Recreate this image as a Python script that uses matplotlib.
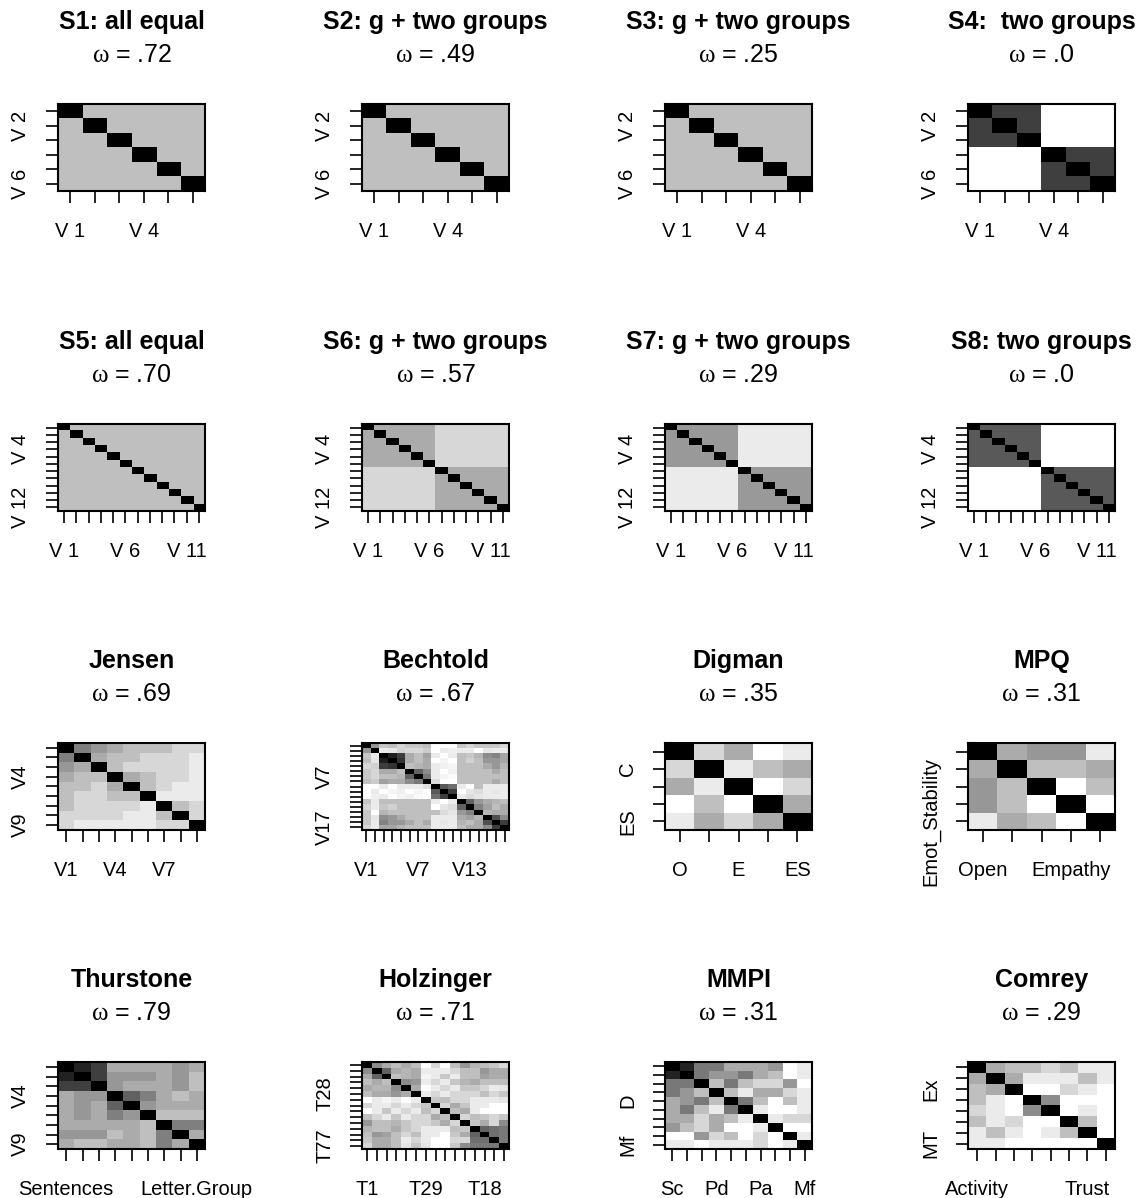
import numpy as np
import matplotlib
matplotlib.use("Agg")
import matplotlib.pyplot as plt

plt.rcParams['font.family'] = ['Liberation Sans', 'DejaVu Sans']
plt.rcParams['mathtext.fontset'] = 'custom'
plt.rcParams['mathtext.rm'] = 'Liberation Serif'
plt.rcParams['mathtext.it'] = 'Liberation Serif:italic'
plt.rcParams['mathtext.bf'] = 'Liberation Serif:bold'

W, H, DPI = 1143, 1198, 100

titles = ["S1: all equal", "S2: g + two groups", "S3: g + two groups", "S4:  two groups",
          "S5: all equal", "S6: g + two groups", "S7: g + two groups", "S8: two groups",
          "Jensen", "Bechtold", "Digman", "MPQ",
          "Thurstone", "Holzinger", "MMPI", "Comrey"]
omegas = [".72", ".49", ".25", ".0", ".70", ".57", ".29", ".0",
          ".69", ".67", ".35", ".31", ".79", ".71", ".31", ".29"]

# simulated structures: group of each variable, (r within, r between)
s1_groups = [1, 1, 1, 1, 1, 1]
s1_r = (0.25, 0.25)
s2_groups = [1, 1, 1, 2, 2, 2]
s2_r = (0.25, 0.25)
s3_groups = [1, 1, 1, 2, 2, 2]
s3_r = (0.25, 0.25)
s4_groups = [1, 1, 1, 2, 2, 2]
s4_r = (0.75, 0.0)
s5_groups = [1] * 12
s5_r = (0.25, 0.25)
s6_groups = [1, 1, 1, 1, 1, 1, 2, 2, 2, 2, 2, 2]
s6_r = (0.33, 0.16)
s7_groups = [1, 1, 1, 1, 1, 1, 2, 2, 2, 2, 2, 2]
s7_r = (0.40, 0.08)
s8_groups = [1, 1, 1, 1, 1, 1, 2, 2, 2, 2, 2, 2]
s8_r = (0.65, 0.0)

# real data sets, lower triangles (row i holds r with variables 1..i-1)
jensen = [
    [.50],
    [.41, .33],
    [.33, .25, .25],
    [.25, .25, .16, .33],
    [.25, .16, .16, .25, .25],
    [.25, .16, .16, .16, .16, .08],
    [.16, .16, .16, .16, .08, .08, .25],
    [.16, .08, .08, .08, .08, .08, .16, .16],
]
bechtold = [
    [.41],
    [.22, .08],
    [.25, .10, .88],
    [.16, .18, .76, .80],
    [.22, .16, .33, .33, .25],
    [.22, .16, .25, .25, .29, .61],
    [.25, .20, .37, .33, .33, .45, .53],
    [0, 0, .08, 0, .08, .08, .08, .14],
    [0, .08, 0, .04, .06, 0, .04, 0, .65],
    [0, .06, .08, 0, .04, .06, .02, 0, .57, .76],
    [.22, .08, .25, .25, .25, .25, .25, .25, .08, 0, .08],
    [.16, .08, .22, .18, .25, .25, .25, .25, 0, .10, .14, .61],
    [.22, 0, .29, .25, .25, .25, .25, .25, .25, .14, .10, .41, .49],
    [.22, .10, .45, .41, .33, .25, .25, .25, .08, .08, .08, .33, .37, .29],
    [.22, .08, .49, .41, .41, .33, .25, .33, .08, .10, .08, .29, .25, .33, .69],
    [.16, .08, .35, .35, .29, .25, .25, .25, .08, .08, .08, .25, .33, .33, .45, .76],
]
digman = [
    [.16],
    [.33, .08],
    [0, .25, 0],
    [.08, .33, .16, .33],
]
mpq = [
    [.33],
    [.41, .25],
    [.41, .25, 0],
    [.08, .33, .25, 0],
]
thurstone = [
    [.86],
    [.75, .75],
    [.33, .41, .41],
    [.33, .41, .33, .62],
    [.33, .41, .33, .50, .41],
    [.33, .33, .33, .33, .33, .25],
    [.41, .41, .41, .25, .33, .25, .50],
    [.33, .25, .25, .33, .33, .25, .50, .33],
]
holzinger = [
    [.45],
    [.33, .61],
    [.25, .33, .25],
    [.33, .29, .29, .45],
    [.25, .33, .33, .41, .33],
    [0, .08, .04, .08, 0, .08],
    [.16, .08, .08, .16, .08, .16, .22],
    [0, .08, .22, .08, .16, .08, .25, .16],
    [.25, .16, .08, .22, .08, .16, .16, .33, .25],
    [.41, .25, .25, .29, .22, .16, .16, .22, .33, .16],
    [.29, .25, .25, .33, .22, .16, .08, .08, .08, .25, .22],
    [.25, .41, .37, .25, .16, .25, .08, .08, 0, .22, .33, .61],
    [.22, .33, .33, .25, .08, .16, .08, 0, 0, .16, .16, .57, .57],
    [.16, .33, .33, .25, .10, .22, .10, 0, 0, .22, .45, .53, .53, .53],
]
mmpi = [
    [.86],
    [.53, .53],
    [.53, .41, .25],
    [.33, .41, .53, .25],
    [.33, .53, .25, .08, .53],
    [.33, .33, .16, .33, .25, .08],
    [.41, .25, .16, .33, 0, 0, .08],
    [0, 0, .41, .16, .25, 0, .16, 0],
    [.08, .08, 0, .08, .08, .08, .16, 0, .08],
]
comrey = [
    [.33],
    [.25, .33],
    [.25, .08, 0],
    [.16, .08, 0, .45],
    [.25, .08, .16, 0, 0],
    [.08, .25, .08, 0, .08, .25],
    [.08, .08, 0, 0, 0, 0, 0],
]

# tick labels shown on each panel (position -> text)
xlabs = [
    {0: "V 1", 3: "V 4"}, {0: "V 1", 3: "V 4"}, {0: "V 1", 3: "V 4"}, {0: "V 1", 3: "V 4"},
    {0: "V 1", 5: "V 6", 10: "V 11"}, {0: "V 1", 5: "V 6", 10: "V 11"},
    {0: "V 1", 5: "V 6", 10: "V 11"}, {0: "V 1", 5: "V 6", 10: "V 11"},
    {0: "V1", 3: "V4", 6: "V7"}, {0: "V1", 6: "V7", 12: "V13"},
    {0: "O", 2: "E", 4: "ES"}, {0: "Open", 3: "Empathy"},
    {0: "Sentences", 8: "Letter.Group"}, {0: "T1", 6: "T29", 12: "T18"},
    {0: "Sc", 3: "Pd", 6: "Pa", 9: "Mf"}, {0: "Activity", 6: "Trust"},
]
ylabs = [
    {1: "V 2", 5: "V 6"}, {1: "V 2", 5: "V 6"}, {1: "V 2", 5: "V 6"}, {1: "V 2", 5: "V 6"},
    {3: "V 4", 11: "V 12"}, {3: "V 4", 11: "V 12"}, {3: "V 4", 11: "V 12"}, {3: "V 4", 11: "V 12"},
    {3: "V4", 8: "V9"}, {6: "V7", 16: "V17"},
    {1: "C", 4: "ES"}, {4: "Emot_Stability"},
    {3: "V4", 8: "V9"}, {5: "T28", 14: "T77"},
    {4: "D", 9: "Mf"}, {2: "Ex", 7: "MT"},
]


def block_matrix(groups, rr):
    g = np.array(groups)
    m = np.where(g[:, None] == g[None, :], rr[0], rr[1]).astype(float)
    np.fill_diagonal(m, 1.0)
    return m


def from_lower(rows):
    n = len(rows) + 1
    m = np.eye(n)
    for i, row in enumerate(rows, start=1):
        m[i, :i] = row
        m[:i, i] = row
    return m


mats = [block_matrix(s1_groups, s1_r), block_matrix(s2_groups, s2_r),
        block_matrix(s3_groups, s3_r), block_matrix(s4_groups, s4_r),
        block_matrix(s5_groups, s5_r), block_matrix(s6_groups, s6_r),
        block_matrix(s7_groups, s7_r), block_matrix(s8_groups, s8_r),
        from_lower(jensen), from_lower(bechtold), from_lower(digman), from_lower(mpq),
        from_lower(thurstone), from_lower(holzinger), from_lower(mmpi), from_lower(comrey)]

fig = plt.figure(figsize=(W / DPI, H / DPI), dpi=DPI)

lefts = [58, 362, 665, 968]
tops = [104, 424, 743, 1062]
aw, ah = 147, 87

for k, m in enumerate(mats):
    r, c = divmod(k, 4)
    x0, y0 = lefts[c], tops[r]
    ax = fig.add_axes([x0 / W, 1 - (y0 + ah) / H, aw / W, ah / H])
    n = m.shape[0]
    ax.imshow(m, cmap="gray_r", vmin=0, vmax=1, aspect="auto", interpolation="nearest")
    ax.set_xticks(range(n))
    ax.set_yticks(range(n))
    ax.set_xticklabels([xlabs[k].get(i, "") for i in range(n)])
    ax.set_yticklabels([ylabs[k].get(i, "") for i in range(n)], rotation=90, va="center")
    ax.tick_params(direction="out", length=8.6, width=1.2, labelsize=14.5)
    ax.tick_params(axis="x", pad=14)
    ax.tick_params(axis="y", pad=11.5)
    for s in ax.spines.values():
        s.set_linewidth(1.5)

    cx = (x0 + aw / 2) / W
    fig.text(cx, 1 - (y0 - 75) / H, titles[k], ha="center", va="baseline",
             fontsize=18, fontweight="bold")
    fig.text(cx, 1 - (y0 - 42) / H, r"$\mathrm{\omega}$ = " + omegas[k], ha="center",
             va="baseline", fontsize=18)

fig.savefig("out.png", dpi=DPI)
